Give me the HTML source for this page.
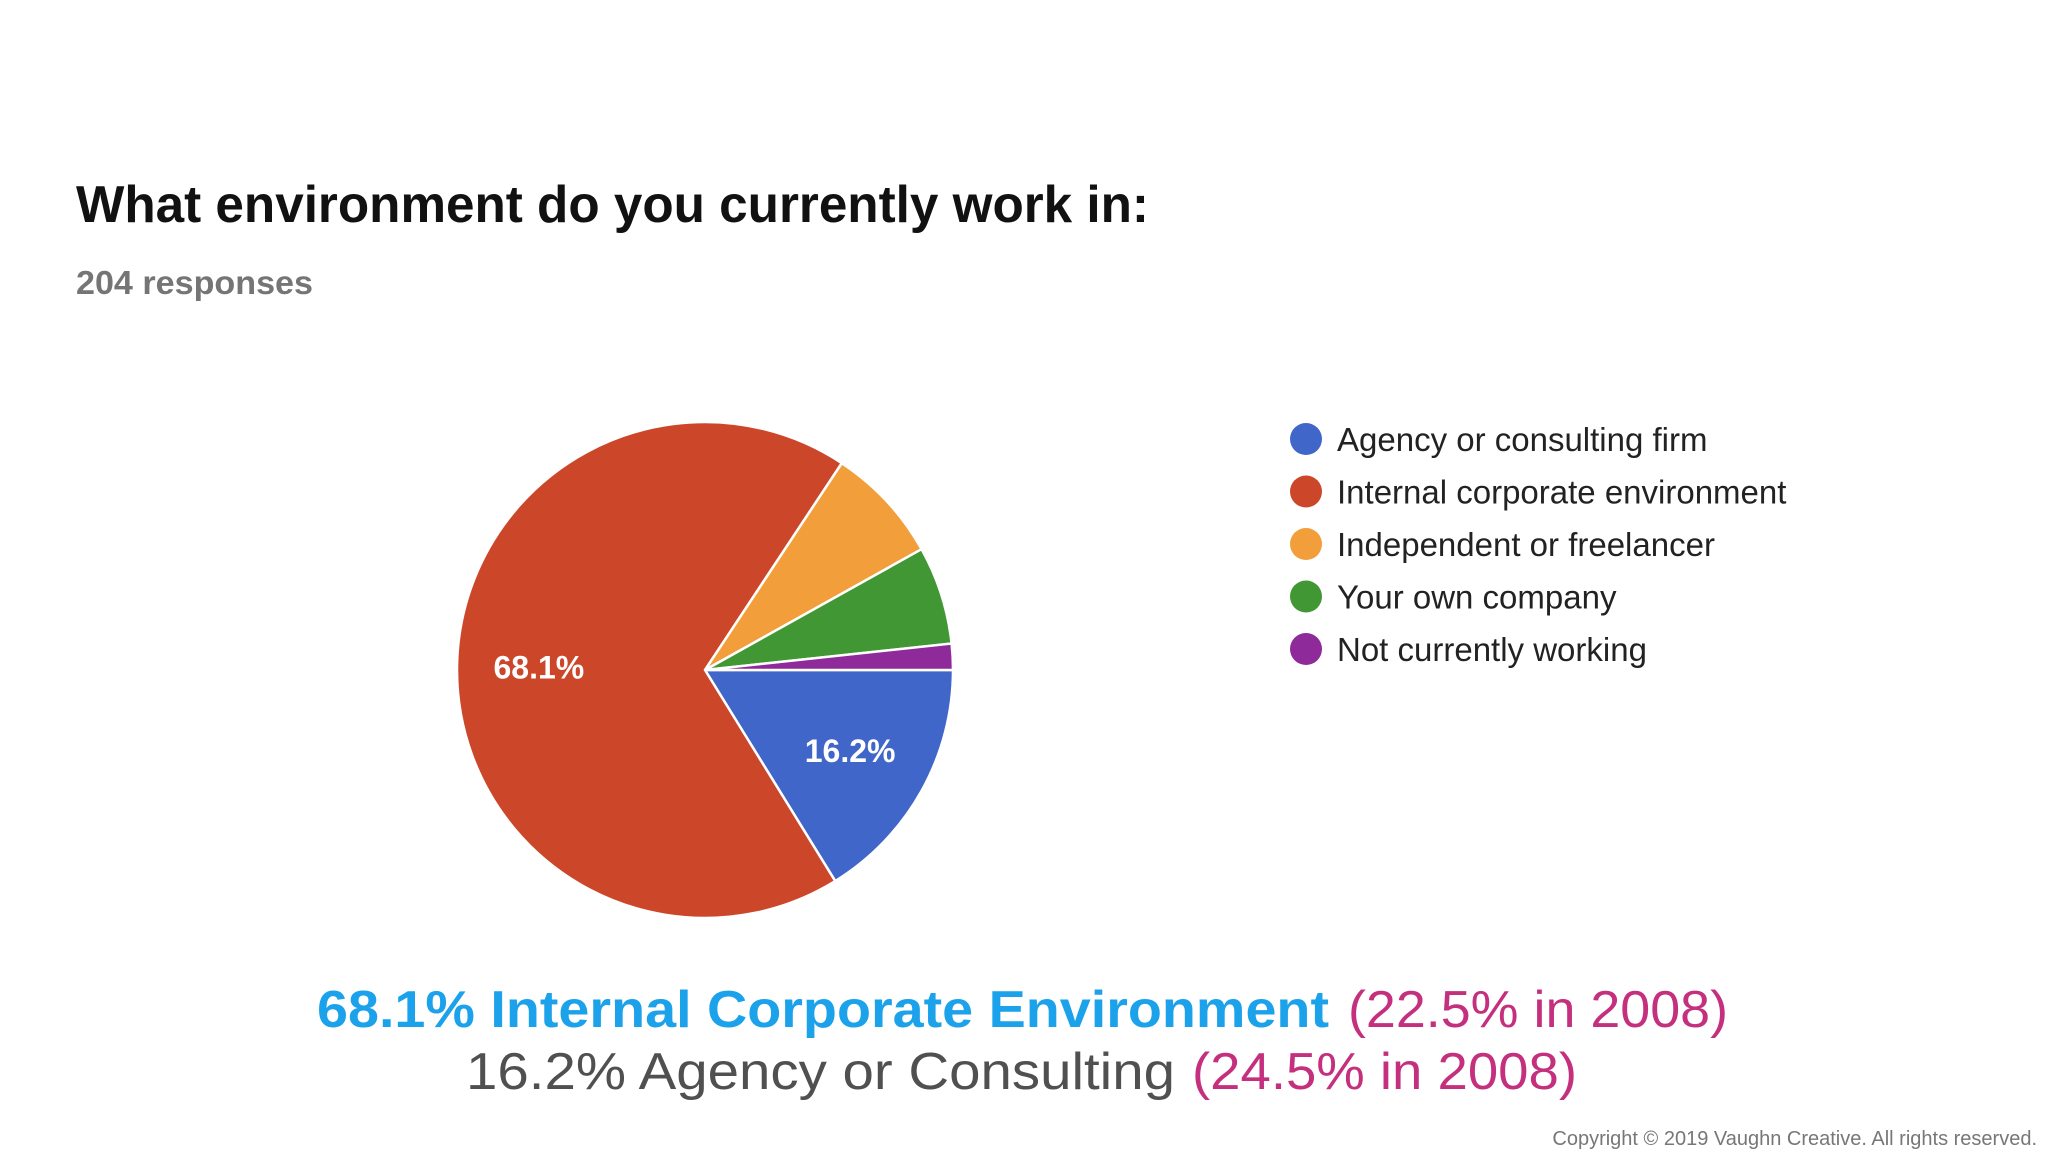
<!DOCTYPE html>
<html><head><meta charset="utf-8"><style>html,body{margin:0;padding:0;background:#fff}svg{display:block}</style></head>
<body>
<svg id="chart" width="2048" height="1152" viewBox="0 0 2048 1152" font-family="'Liberation Sans', sans-serif">
<rect width="2048" height="1152" fill="#fff"/>
<text x="76" y="222" font-size="52" font-weight="bold" fill="#111" textLength="1073" lengthAdjust="spacingAndGlyphs">What environment do you currently work in:</text>
<text x="76" y="294" font-size="33" font-weight="bold" fill="#757575" textLength="237" lengthAdjust="spacingAndGlyphs">204 responses</text>
<g id="pie"></g>
<g id="legend"></g>
<text y="1027" font-size="52" font-weight="bold"><tspan x="317" fill="#1ba2ea" textLength="1012" lengthAdjust="spacingAndGlyphs">68.1% Internal Corporate Environment</tspan><tspan x="1348" fill="#c4307e" font-weight="normal" textLength="380" lengthAdjust="spacingAndGlyphs">(22.5% in 2008)</tspan></text>
<text y="1089" font-size="52"><tspan x="466" fill="#505050" textLength="709" lengthAdjust="spacingAndGlyphs">16.2% Agency or Consulting</tspan><tspan x="1192" fill="#c4307e" textLength="385" lengthAdjust="spacingAndGlyphs">(24.5% in 2008)</tspan></text>
<text x="2037" y="1145" font-size="20" fill="#777" text-anchor="end">Copyright © 2019 Vaughn Creative. All rights reserved.</text>
</svg>
<script>
const categories = ["Agency or consulting firm","Internal corporate environment","Independent or freelancer","Your own company","Not currently working"];
const values = [16.2, 68.1, 7.6, 6.4, 1.7];
const colors = ["#4166c9","#cc4729","#f19e3b","#409733","#8e2a99"];
const NS="http://www.w3.org/2000/svg";
const cx=705, cy=670, r=248;
const pie=document.getElementById('pie');
const total=values.reduce((a,b)=>a+b,0);
function angle(v){return v/total*2*Math.PI;}
let a0=0;
values.forEach((v,i)=>{
  const a1=a0+angle(v);
  const x0=cx+r*Math.cos(a0), y0=cy+r*Math.sin(a0);
  const x1=cx+r*Math.cos(a1), y1=cy+r*Math.sin(a1);
  const large=(a1-a0)>Math.PI?1:0;
  const p=document.createElementNS(NS,'path');
  p.setAttribute('d',`M${cx},${cy} L${x0},${y0} A${r},${r} 0 ${large} 1 ${x1},${y1} Z`);
  p.setAttribute('fill',colors[i]);
  p.setAttribute('stroke','#fff');
  p.setAttribute('stroke-width','2.5');
  
  
  pie.appendChild(p);
  if(v>10){
    const m=(a0+a1)/2, lr=r*0.67;
    const t=document.createElementNS(NS,'text');
    t.setAttribute('x',cx+lr*Math.cos(m));
    t.setAttribute('y',cy+lr*Math.sin(m)+11);
    t.setAttribute('text-anchor','middle');
    t.setAttribute('font-size','32');
    t.setAttribute('font-weight','bold');
    t.setAttribute('fill','#fff');
    t.textContent=v.toFixed(1)+'%';
    
    
    pie.appendChild(t);
  }
  a0=a1;
});
const lg=document.getElementById('legend');
categories.forEach((c,i)=>{
  const y=439+i*52.5;
  const d=document.createElementNS(NS,'circle');
  d.setAttribute('cx',1306);d.setAttribute('cy',y);d.setAttribute('r',16);
  d.setAttribute('fill',colors[i]);
  
  
  lg.appendChild(d);
  const t=document.createElementNS(NS,'text');
  t.setAttribute('x',1337);t.setAttribute('y',y+12);
  t.setAttribute('font-size','33');t.setAttribute('fill','#222');
  t.textContent=c;
  
  
  lg.appendChild(t);
});
</script>
</body></html>
